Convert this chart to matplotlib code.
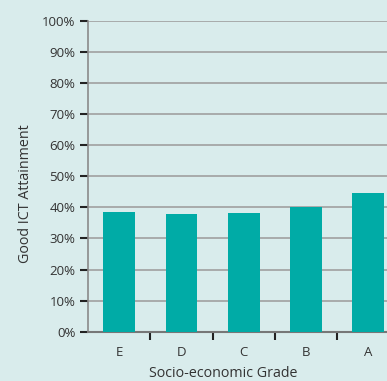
import matplotlib
matplotlib.use("Agg")
import matplotlib.pyplot as plt
import numpy as np
from matplotlib.ticker import FixedLocator, PercentFormatter

grades = ["E", "D", "C", "B", "A"]
attainment = [38.5, 37.9, 38.3, 40.1, 44.6]
yticks = list(range(0, 101, 10))

BG = "#d9ecec"
BAR = "#00aba6"
TXT = "#333333"

plt.rcParams["font.family"] = ["Open Sans", "DejaVu Sans"]

fig = plt.figure(figsize=(3.87, 3.81), dpi=100, facecolor=BG)
ax = fig.add_axes([88/387, 49.3/381, 311.5/387, 310.7/381], facecolor=BG)

x = np.arange(len(grades))
ax.bar(x, attainment, width=0.51, color=BAR, zorder=3)

ax.set_xlim(-0.5, 4.5)
ax.set_ylim(0, 100)
ax.set_yticks(yticks)
ax.yaxis.set_major_formatter(PercentFormatter(decimals=0))
ax.grid(axis="y", color="#a0a0a0", linewidth=1.2, zorder=1)
ax.grid(axis="x", visible=False)

ax.set_xticks(x)
ax.set_xticklabels(grades)
ax.xaxis.set_minor_locator(FixedLocator(x[:-1] + 0.5))
ax.tick_params(axis="x", which="major", length=0, pad=10, labelsize=9.5, labelcolor=TXT)
ax.tick_params(axis="x", which="minor", length=6, width=1.5, color="#222222", direction="out")
ax.tick_params(axis="y", length=6, width=1.5, color="#222222", labelsize=9.5, labelcolor=TXT, pad=3)

for s in ["top", "right"]:
    ax.spines[s].set_visible(False)
ax.spines["left"].set_color("#8a8a8a")
ax.spines["left"].set_linewidth(1.2)
ax.spines["bottom"].set_color("#777777")
ax.spines["bottom"].set_linewidth(1.5)

ax.set_ylabel("Good ICT Attainment", fontsize=10.3, color=TXT, va="center")
ax.set_xlabel("Socio-economic Grade", fontsize=10.3, color=TXT, va="center")
ax.yaxis.set_label_coords(-0.202, 0.443)
ax.xaxis.set_label_coords(0.435, -0.133)

fig.savefig("out.png", dpi=100, facecolor=BG)
